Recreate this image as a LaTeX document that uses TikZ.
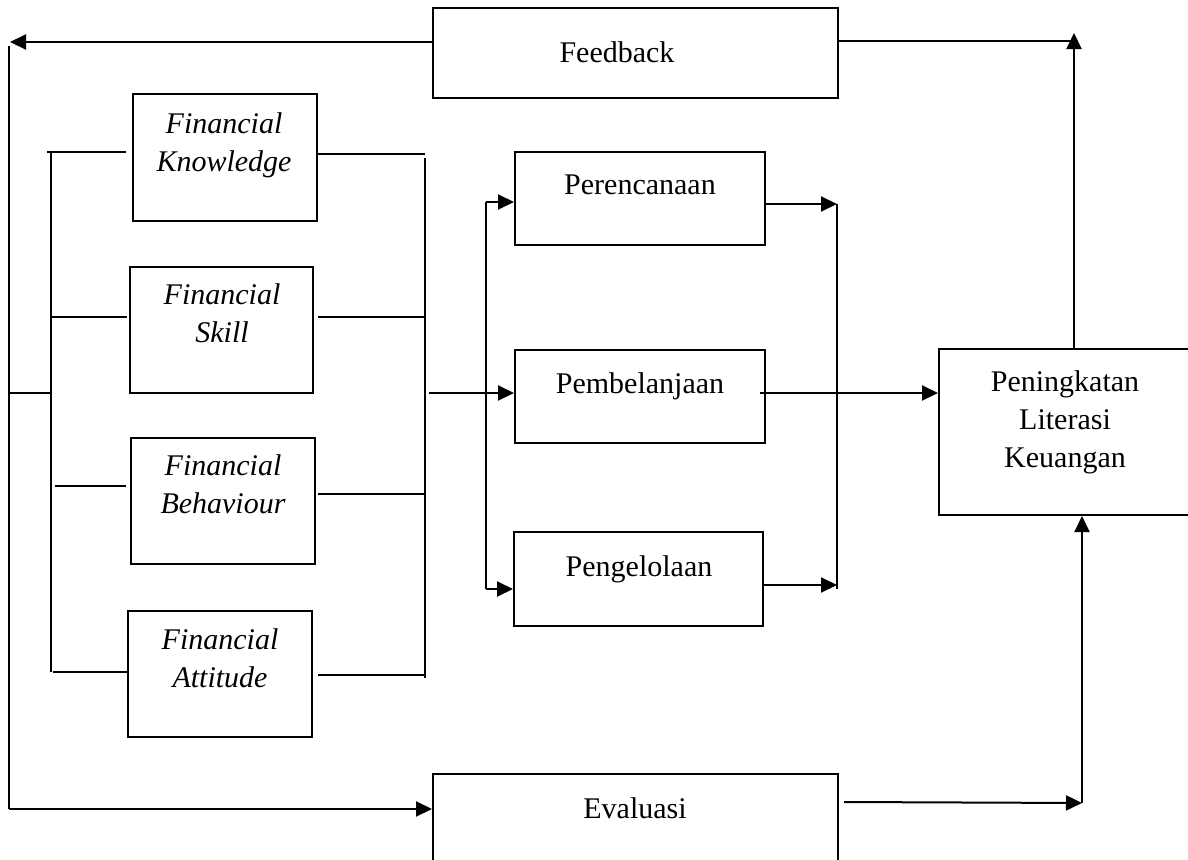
\documentclass[tikz,border=0pt]{standalone}
\usepackage{fontspec}
\setmainfont{Liberation Serif}
\usetikzlibrary{arrows.meta,positioning,calc,fit}
\newlength\pxu
\setlength\pxu{0.4pt}

\begin{document}
\begin{tikzpicture}[x=0.4pt, y=-0.4pt, line width=0.8pt,
  font=\fontsize{12}{15.2}\selectfont,
  blk/.style={draw, inner sep=0pt},
  txt/.style={align=center, inner sep=0pt},
  itl/.style={txt, font=\fontsize{12}{15.2}\selectfont\itshape},
  arr/.style={-{Triangle[length=6.4pt,width=6pt]}}]
\useasboundingbox (0,0) rectangle (1188,860);
% top and bottom boxes
\node[blk, fit={(433,8)(838,98)}] (fb) {};
\node[txt] (fbt) at (617,52) {Feedback};
\node[blk, fit={(433,774)(838,866)}] (ev) {};
\node[txt] (evt) at (635,808) {Evaluasi};
% four financial boxes
\node[blk, fit={(133,94)(317,221)}] (fk) {};
\node[itl] (fkt) at (224,145) {Financial\\Knowledge};
\node[blk, fit={(130,267)(313,393)}] (fs) {};
\node[itl] (fst) at (222,313.5) {Financial\\Skill};
\node[blk, fit={(131,438)(315,564)}] (fh) {};
\node[itl] (fht) at (223,484) {Financial\\Behaviour};
\node[blk, fit={(128,611)(312,737)}] (fa) {};
\node[itl] (fat) at (220,658) {Financial\\Attitude};
% middle column
\node[blk, fit={(515,152)(765,245)}] (pc) {};
\node[txt] (pct) at (640,185) {Perencanaan};
\node[blk, fit={(515,350)(765,443)}] (pb) {};
\node[txt] (pbt) at (640,386) {Pembelanjaan};
\node[blk, fit={(514,532)(763,626)}] (pg) {};
\node[txt] (pgt) at (639,569) {Pengelolaan};
% result box
\node[blk, fit={(939,349)(1192,515)}] (pk) {};
\node[txt] (pkt) at (1065,422) {Peningkatan\\Literasi\\Keuangan};
% feedback loop
\coordinate (fl) at (10,42);
\coordinate (fr) at (1074,41);
\coordinate (fu) at (1074,33);
\draw[arr] (fb.west |- fl) -- (fl);
\draw (fb.east |- fr) -- (fr);
\draw[arr] (pk.north -| fu) -- (fu);
% outer left line to evaluasi
\coordinate (ot) at (9,46);
\coordinate (ob) at (9,809);
\coordinate (om) at (9,393);
\coordinate (im) at (51,393);
\draw (ot) -- (ob);
\draw[arr] (ob) -- (ev.west |- ob);
\draw (om) -- (im);
% inner left bus
\coordinate (it) at (51,151);
\coordinate (ib) at (51,672);
\draw (it) -- (ib);
\coordinate (kl) at (47,152);
\coordinate (sl) at (50,317);
\coordinate (hl) at (55,486);
\coordinate (al) at (53,672);
\draw[shorten >=6\pxu] (kl) -- (kl -| fk.west);
\draw[shorten >=2\pxu] (sl) -- (sl -| fs.west);
\draw[shorten >=4\pxu] (hl) -- (hl -| fh.west);
\draw (al) -- (al -| fa.west);
% right bus
\coordinate (rt) at (425,158);
\coordinate (rb) at (425,678);
\draw (rt) -- (rb);
\coordinate (kr) at (425,154);
\coordinate (sr) at (425,317);
\coordinate (hr) at (425,494);
\coordinate (ar) at (425,675);
\draw (kr -| fk.east) -- (kr);
\draw[shorten <=4\pxu] (sr -| fs.east) -- (sr);
\draw[shorten <=2\pxu] (hr -| fh.east) -- (hr);
\draw[shorten <=5\pxu] (ar -| fa.east) -- (ar);
% into the middle column
\coordinate (mi) at (429,393);
\draw[arr] (mi) -- (pb.west |- mi);
\coordinate (jt) at (486,202);
\coordinate (jb) at (486,589);
\draw (jt) -- (jb);
\draw[arr] (jt) -- (pc.west |- jt);
\draw[arr] (jb) -- (pg.west |- jb);
% out of the middle column
\coordinate (qt) at (837,204);
\coordinate (qb) at (837,589);
\coordinate (qm) at (837,585);
\draw (qt) -- (qb);
\draw[arr] (pc.east |- qt) -- (qt);
\draw[arr] (qm -| pg.east) -- (qm);
\coordinate (pm) at (760,393);
\draw[arr] (pm) -- (pm -| pk.west);
% evaluasi to result
\coordinate (em) at (844,802);
\coordinate (er) at (1082,803);
\draw[arr] (em) -- (er);
\draw[arr] (er) -- (er |- pk.south);
\end{tikzpicture}
\end{document}
